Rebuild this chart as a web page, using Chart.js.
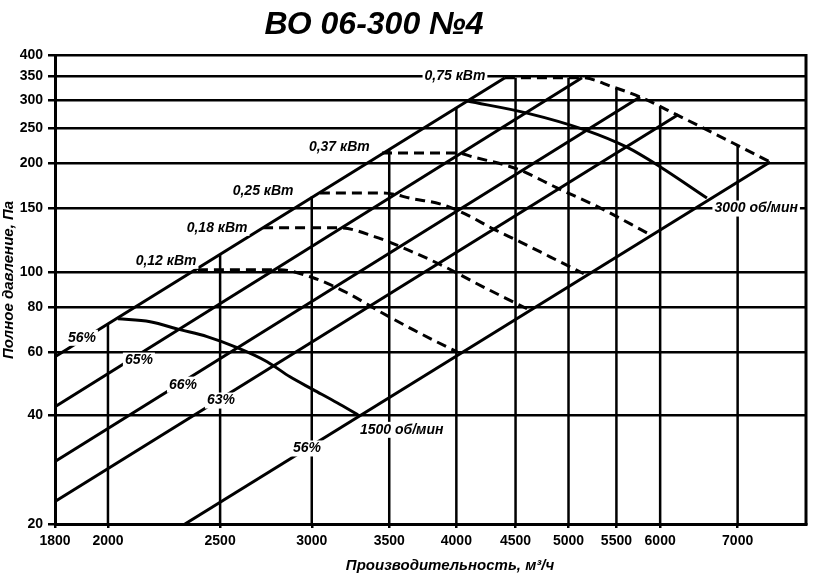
<!DOCTYPE html>
<html><head><meta charset="utf-8">
<script src="https://cdn.jsdelivr.net/npm/chart.js@4.4.1/dist/chart.umd.min.js"></script>
<style>html,body{margin:0;padding:0;background:#fff;}</style>
</head><body>
<canvas id="c" width="820" height="583"></canvas>
<script>
// ---- axes ----
const xTicks = [1800, 2000, 2500, 3000, 3500, 4000, 4500, 5000, 5500, 6000, 7000];
const yTicks = [20, 40, 60, 80, 100, 150, 200, 250, 300, 350, 400];
// vertical grid lines (flow) and the pressure where each ends at the working envelope
const xGridLines = [2000, 2500, 3000, 3500, 4000, 4500, 5000, 5500, 6000, 7000];
const xGridTops  = [72, 112, 162, 218, 287, 346, 346, 323, 288, 225];

// ---- efficiency (system) lines ----
const effNames = ['56%', '65%', '66%', '63%', '56%'];
const effQ = [[1800, 4406], [1800, 5136], [1800, 5765], [1800, 6218], [2331, 7467]];
const effP = [[58.2, 346], [42.3, 346], [29.8, 306], [23.1, 273], [20, 202]];

// ---- speed curves ----
const n1500Q = [2040, 2175, 2308, 2436, 2586, 2745, 2873, 3008, 3155, 3289];
const n1500P = [74.2, 72.8, 69.2, 66.2, 61.7, 56.4, 51.2, 47.2, 43.4, 40.2];
const n3000Q = [4087, 4604, 5165, 5616, 5998, 6585];
const n3000P = [298, 276, 248, 222, 196, 160.5];

// ---- motor power curves (dashed) ----
const p012Q = [2392, 2816, 3008, 3218, 3437, 3670, 3925, 4006];
const p012P = [101.4, 101.4, 96.4, 87.6, 77.6, 69.2, 62.0, 60.1];
const p018Q = [2723, 3173, 3403, 3648, 3910, 4152, 4406, 4604];
const p018P = [132.6, 132.6, 125.2, 114.5, 103.4, 93.4, 84.8, 79.1];
const p025Q = [3049, 3457, 3670, 3871, 4070, 4303, 4541, 4820, 5154];
const p025P = [165.8, 165.8, 159.6, 154.6, 145, 131.8, 121.3, 110.2, 98.9];
const p037Q = [3450, 4006, 4135, 4513, 4887, 5323, 5846];
const p037P = [214, 214, 208.6, 193.2, 171.2, 150.7, 128.4];
const p075Q = [4406, 5136, 5463, 5765, 6204, 6935, 7467];
const p075P = [346, 346, 326, 306, 272.8, 228, 202];

// ---- text labels ----
const labelTexts = ['56%', '65%', '66%', '63%', '56%', '1500 об/мин', '3000 об/мин',
                    '0,12 кВт', '0,18 кВт', '0,25 кВт', '0,37 кВт', '0,75 кВт'];
const labelQ = [1899, 2127, 2322, 2504, 2972, 3588, 7263, 2245, 2485, 2723, 3169, 3989];
const labelP = [65.7, 56.8, 48.7, 44.0, 32.4, 36.5, 150, 107.4, 132.6, 168, 222, 350];

const titleText = 'ВО 06-300 №4';
const xTitle = 'Производительность, м³/ч';
const yTitle = 'Полное давление, Па';

const FONT = '"Liberation Sans", Arial, sans-serif';

function pts(qs, ps) { return qs.map((q, i) => ({x: q, y: ps[i]})); }
function line(qs, ps, width, dash, smooth) {
  return {data: pts(qs, ps), borderColor: '#000', borderWidth: width, borderDash: dash || [],
          pointRadius: 0, fill: false, tension: 0,
          cubicInterpolationMode: smooth ? 'monotone' : 'default'};
}

const datasets = [];
xGridLines.forEach((q, i) => datasets.push(line([q, q], [20, xGridTops[i]], 2.5)));
effQ.forEach((qs, i) => datasets.push(line(qs, effP[i], 3)));
datasets.push(line(n1500Q, n1500P, 3, null, true));
datasets.push(line(n3000Q, n3000P, 3, null, true));
[[p012Q, p012P], [p018Q, p018P], [p025Q, p025P], [p037Q, p037P], [p075Q, p075P]]
  .forEach(([q, p]) => datasets.push(line(q, p, 3, [10, 6], true)));

const decor = {
  id: 'decor',
  afterDatasetsDraw(chart) {
    const {ctx, chartArea: a, scales: {x, y}} = chart;
    ctx.save();
    // right frame
    ctx.strokeStyle = '#000'; ctx.lineWidth = 3;
    ctx.beginPath(); ctx.moveTo(a.right, a.top - 1); ctx.lineTo(a.right, a.bottom + 1); ctx.stroke();
    // labels
    ctx.font = 'italic bold 14px ' + FONT;
    ctx.textAlign = 'center'; ctx.textBaseline = 'middle';
    labelTexts.forEach((t, i) => {
      const px = x.getPixelForValue(labelQ[i]), py = y.getPixelForValue(labelP[i]);
      const w = ctx.measureText(t).width;
      ctx.fillStyle = '#fff';
      ctx.fillRect(px - w / 2 - 2, py - 8, w + 4, 16);
      ctx.fillStyle = '#000';
      ctx.fillText(t, px, py);
    });
    // title
    ctx.font = 'italic bold 32px ' + FONT;
    ctx.fillText(titleText, 374, 25);
    // axis titles
    ctx.font = 'italic bold 15px ' + FONT;
    ctx.fillText(xTitle, 450, 566);
    ctx.translate(9, 280); ctx.rotate(-Math.PI / 2);
    ctx.fillText(yTitle, 0, 0);
    ctx.restore();
  }
};

new Chart(document.getElementById('c'), {
  type: 'line',
  data: {datasets},
  plugins: [decor],
  options: {
    responsive: false, animation: false,
    layout: {padding: {top: 55, right: 14, left: 0, bottom: 0}},
    plugins: {legend: {display: false}, tooltip: {enabled: false}, title: {display: false}},
    scales: {
      x: {
        type: 'logarithmic', min: 1800, max: 8020,
        afterBuildTicks: s => { s.ticks = xTicks.map(v => ({value: v})); },
        afterFit: s => { s.height = 59; },
        ticks: {autoSkip: false, maxRotation: 0, color: '#000', padding: 5,
                font: {family: FONT, weight: 'bold', size: 14}, callback: v => String(v)},
        grid: {drawOnChartArea: false, drawTicks: true, tickLength: 4, color: '#000', lineWidth: 2.5},
        border: {display: true, color: '#000', width: 3}
      },
      y: {
        type: 'logarithmic', min: 20, max: 400,
        afterBuildTicks: s => { s.ticks = yTicks.map(v => ({value: v})); },
        afterFit: s => { s.width = 55; },
        ticks: {autoSkip: false, color: '#000', padding: 5,
                font: {family: FONT, weight: 'bold', size: 14}, callback: v => String(v)},
        grid: {color: '#000', lineWidth: 2.5, drawTicks: true, tickLength: 7},
        border: {display: true, color: '#000', width: 3}
      }
    }
  }
});
</script>
</body></html>
